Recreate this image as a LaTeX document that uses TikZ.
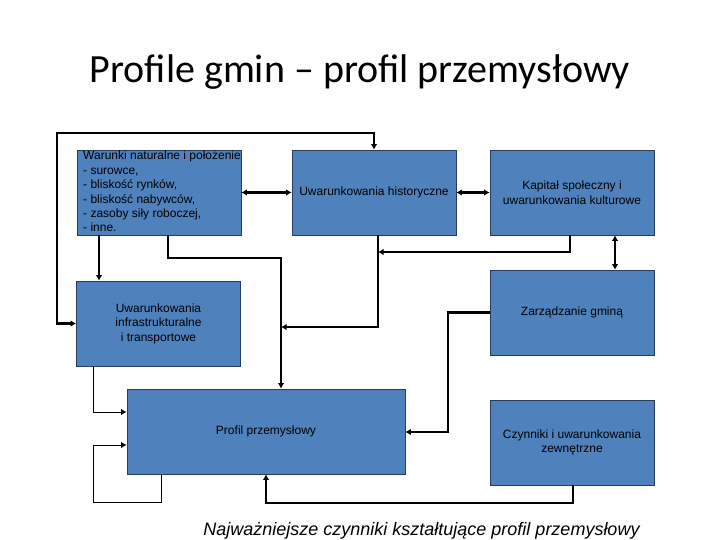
\documentclass[tikz,border=0pt]{standalone}
\usepackage{fontspec}
\setmainfont{Liberation Sans}
\newfontfamily\titlefont{Carlito}
\usetikzlibrary{arrows.meta}
\definecolor{boxfill}{HTML}{4F81BD}
\definecolor{boxline}{HTML}{263D5C}
\tikzset{
  box/.style={draw=boxline, line width=0.8bp, fill=boxfill, inner sep=0pt,
    minimum width=164bp, minimum height=85bp, align=center,
    font=\fontsize{12bp}{14.6bp}\selectfont},
  conn/.style={line width=2.4bp, -{Latex[length=5.5bp,width=6.5bp]}},
  biconn/.style={line width=2.4bp, {Latex[length=5.5bp,width=6.5bp]}-{Latex[length=5.5bp,width=6.5bp]}},
  thinconn/.style={line width=1bp, -{Latex[length=5.5bp,width=6.5bp]}},
}
\begin{document}
\begin{tikzpicture}[x=1bp,y=-1bp]
\useasboundingbox (0,0) rectangle (720,540);
\fill[white] (0,0) rectangle (720,540);
\node[anchor=base, font=\titlefont\fontsize{40bp}{42bp}\selectfont] (title) at (360,83) {Profile gmin – profil przemysłowy};

\node[box] (A) at (159,192.5) {};
\node[anchor=north west, align=left, inner sep=0pt, font=\fontsize{12bp}{14.4bp}\selectfont] (At) at (83,151)
  {Warunki naturalne i położenie\\- surowce,\\- bliskość rynków,\\- bliskość nabywców,\\- zasoby siły roboczej,\\- inne.};
\node[box] (B) at (374,192.5) {Uwarunkowania historyczne};
\node[box] (C) at (572,192.5) {Kapitał społeczny i\\uwarunkowania kulturowe};
\node[box] (D) at (572,312.5) {Zarządzanie gminą};
\node[box] (E) at (572,442.5) {Czynniki i uwarunkowania\\zewnętrzne};
\node[box] (F) at (158.5,323.5) {Uwarunkowania\\infrastrukturalne\\i transportowe};
\node[box, minimum width=278bp] (G) at (266,431.5) {Profil przemysłowy};

\draw[biconn] (F.west) -| (57,133) -| (B.north);
\draw[biconn] (A.east) -- (B.west);
\draw[biconn] (B.east) -- (C.west);
\draw[conn] (A.south -| 99,0) -- (F.north -| 99,0);
\draw[conn] (A.south -| 168,0) |- (281,258) -- (G.north -| 281,0);
\draw[conn] (C.south -| 570,0) |- (378,252);
\draw[conn] (B.south -| 378,0) |- (281,327);
\draw[biconn] (C.south -| 615,0) -- (D.north -| 615,0);
\draw[conn] (D.west) -| (448,432) -- (G.east |- 448,432);
\draw[thinconn] (F.south -| 93,0) |- (G.west |- 0,412);
\draw[thinconn] (G.south -| 161,0) |- (93,502) |- (G.west |- 0,445);
\draw[conn] (E.south -| 573,0) |- (266,503) -- (G.south -| 266,0);

\node[anchor=base, font=\itshape\fontsize{18bp}{20bp}\selectfont] (cap) at (421.5,535) {Najważniejsze czynniki kształtujące profil przemysłowy};
\end{tikzpicture}
\end{document}
